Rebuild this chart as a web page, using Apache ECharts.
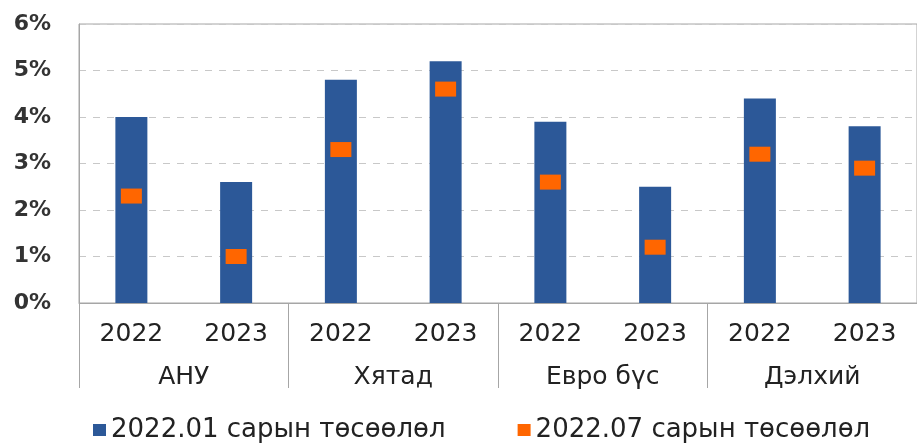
<!DOCTYPE html>
<html>
<head>
<meta charset="utf-8">
<script src="https://cdn.jsdelivr.net/npm/echarts@6/dist/echarts.min.js"></script>
<style>html,body{margin:0;padding:0;background:#fff}#c{width:917px;height:443px}</style>
</head>
<body>
<div id="c"></div>
<script>
const years = ['2022','2023','2022','2023','2022','2023','2022','2023'];
const groups = ['АНУ','Хятад','Евро бүс','Дэлхий'];
const seriesNames = ['2022.01 сарын төсөөлөл','2022.07 сарын төсөөлөл'];
const jan2022 = [4.0, 2.6, 4.8, 5.2, 3.9, 2.5, 4.4, 3.8];
const jul2022 = [2.3, 1.0, 3.3, 4.6, 2.6, 1.2, 3.2, 2.9];
const yTicks = {min: 0, max: 6, interval: 1};

const FONT = 'DejaVu Sans';
const TXT = '#222';
const chart = echarts.init(document.getElementById('c'), null, {renderer: 'canvas'});
chart.setOption({
  animation: false,
  backgroundColor: '#fff',
  textStyle: {fontFamily: FONT},
  grid: {left: 79, top: 24, right: 0, height: 279, show: true, borderColor: '#a6a6a6', borderWidth: 1},
  legend: {
    left: 88, top: 412, itemWidth: 13, itemHeight: 12, itemGap: 72, icon: 'rect',
    textStyle: {fontFamily: FONT, fontSize: 26, color: TXT},
    data: seriesNames
  },
  xAxis: [
    {
      type: 'category', data: years, gridIndex: 0, position: 'bottom',
      axisLine: {show: true, lineStyle: {color: '#a6a6a6'}},
      axisTick: {show: false},
      axisLabel: {interval: 0, margin: 19, fontFamily: FONT, fontSize: 25, color: TXT}
    },
    {
      type: 'category', data: groups, gridIndex: 0, position: 'bottom',
      axisLine: {show: false},
      axisTick: {show: true, length: 85, lineStyle: {color: '#a6a6a6'}},
      axisLabel: {interval: 0, margin: 62, fontFamily: FONT, fontSize: 25, color: TXT}
    }
  ],
  yAxis: {
    type: 'value', min: yTicks.min, max: yTicks.max, interval: yTicks.interval,
    axisLine: {show: true, lineStyle: {color: '#a6a6a6'}},
    axisTick: {show: false},
    axisLabel: {formatter: '{value}%', margin: 28, fontFamily: FONT, fontSize: 22, fontWeight: 'bold', color: '#333'},
    splitLine: {show: true, lineStyle: {color: '#c8c8c8', type: [7, 7], width: 1}}
  },
  series: [
    {
      name: seriesNames[0], type: 'bar', xAxisIndex: 0, data: jan2022,
      barWidth: 32, itemStyle: {color: '#2c5898'}
    },
    {
      name: seriesNames[1], type: 'scatter', xAxisIndex: 0, data: jul2022,
      symbol: 'rect', symbolSize: [21, 15], itemStyle: {color: '#ff6600', opacity: 1, borderWidth: 0}, z: 5
    }
  ]
});
</script>
</body>
</html>
